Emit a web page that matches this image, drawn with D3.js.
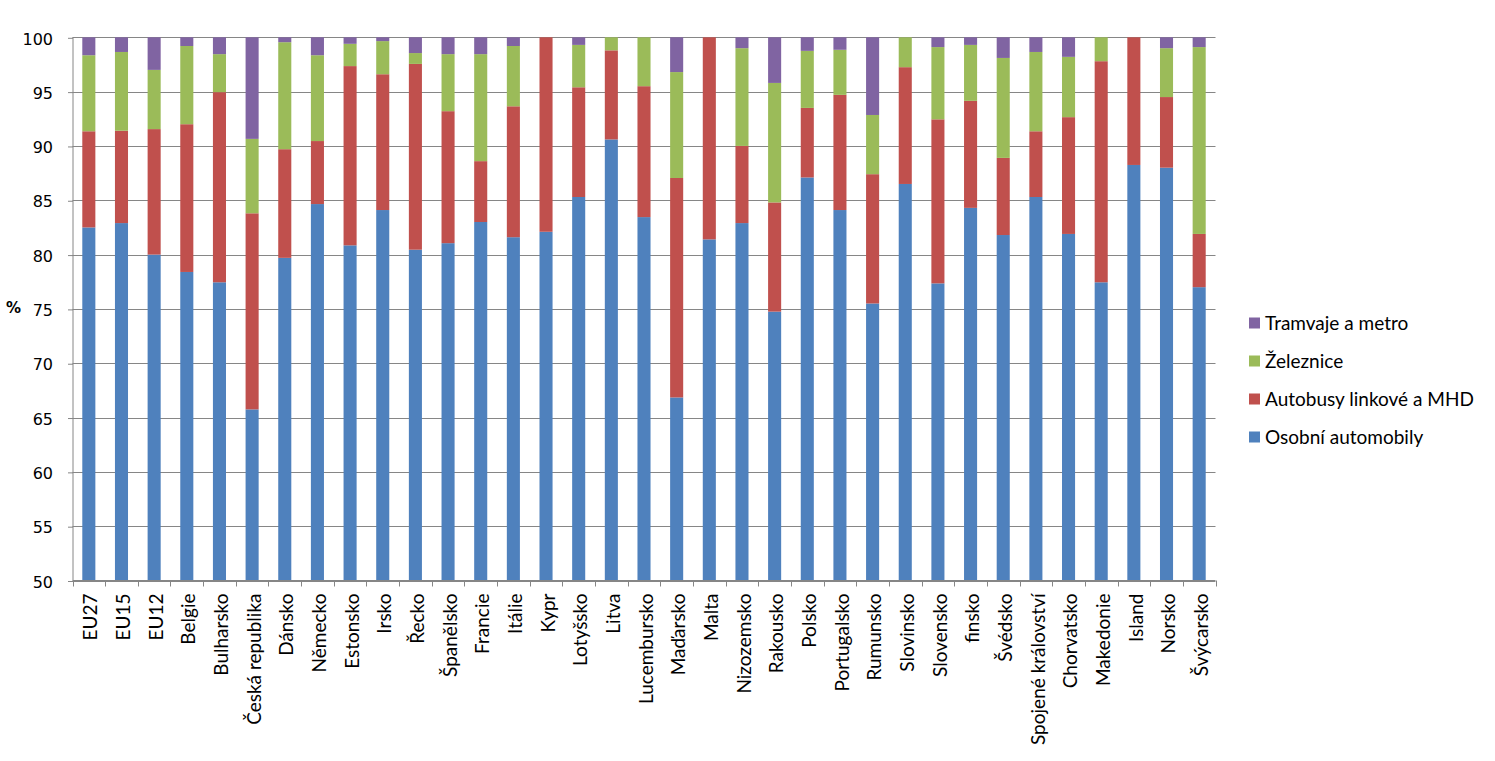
<!DOCTYPE html>
<html><head><meta charset="utf-8">
<script src="https://cdn.jsdelivr.net/npm/d3@7"></script>
<style>body{margin:0;background:#fff}</style>
</head><body>
<svg id="chart" width="1495" height="761"></svg>
<script>
const categories = ["EU27","EU15","EU12","Belgie","Bulharsko","Česká republika","Dánsko","Německo","Estonsko","Irsko","Řecko","Španělsko","Francie","Itálie","Kypr","Lotyšsko","Litva","Lucembursko","Maďarsko","Malta","Nizozemsko","Rakousko","Polsko","Portugalsko","Rumunsko","Slovinsko","Slovensko","finsko","Švédsko","Spojené království","Chorvatsko","Makedonie","Island","Norsko","Švýcarsko"];
const osobniAutomobily = [82.5,82.9,80.0,78.4,77.45,65.75,79.7,84.65,80.85,84.1,80.45,81.05,83.0,81.6,82.1,85.3,90.6,83.45,66.85,81.4,82.9,74.75,87.1,84.1,75.5,86.5,77.35,84.3,81.8,85.3,81.9,77.45,88.25,88.0,77.0];
const autobusy = [8.85,8.5,11.55,13.6,17.5,18.05,10.0,5.8,16.5,12.5,17.1,12.15,5.6,12.05,17.9,10.1,8.2,12.05,20.2,18.6,7.1,10.05,6.4,10.6,11.9,10.75,15.1,9.85,7.1,6.05,10.75,20.35,11.75,6.5,4.9];
const zeleznice = [7.0,7.25,5.45,7.2,3.5,6.85,9.85,7.9,2.05,3.05,1.0,5.25,9.85,5.55,0,3.9,1.2,4.5,9.75,0,9.0,11.0,5.25,4.15,5.45,2.75,6.65,5.15,9.2,7.3,5.55,2.2,0,4.5,17.2];
const tramvaje = [1.65,1.35,3.0,0.8,1.55,9.35,0.45,1.65,0.6,0.35,1.45,1.55,1.55,0.8,0,0.7,0,0,3.2,0,1.0,4.2,1.25,1.15,7.15,0,0.9,0.7,1.9,1.35,1.8,0,0,1.0,0.9];
const seriesNames = ["Osobní automobily","Autobusy linkové a MHD","Železnice","Tramvaje a metro"];
const seriesColors = ["#4F81BD","#C0504D","#9BBB59","#8064A2"];
const yTicks = [50,55,60,65,70,75,80,85,90,95,100];

const svg = d3.select("#chart");
const pLeft = 72.5, pRight = 1215.5, pTop = 37.3, pBottom = 580.5;
const x = d3.scaleBand().domain(categories).range([pLeft, pRight]).paddingInner(0.6).paddingOuter(0.3);
const xb = d3.scaleBand().domain(categories).range([pLeft, pRight]);
const y = d3.scaleLinear().domain([50,100]).range([pBottom, pTop]).clamp(true);

const rows = categories.map((c,i)=>({cat:c, s0:osobniAutomobily[i], s1:autobusy[i], s2:zeleznice[i], s3:tramvaje[i]}));
const stack = d3.stack().keys(["s0","s1","s2","s3"])(rows);

// gridlines
svg.append("g").selectAll("line").data(yTicks).join("line")
  .attr("x1", pLeft).attr("x2", pRight)
  .attr("y1", d=>Math.round(y(d))+0.5).attr("y2", d=>Math.round(y(d))+0.5)
  .attr("stroke", "#868686").attr("stroke-width", 1);

// bars
svg.append("g").selectAll("g").data(stack).join("g")
  .attr("fill", (d,i)=>seriesColors[i])
  .selectAll("rect").data(d=>d).join("rect")
  .attr("x", d=>x(d.data.cat))
  .attr("width", x.bandwidth())
  .attr("y", d=>y(d[1]))
  .attr("height", d=>Math.max(0, y(d[0]) - y(d[1])));

// y axis
const yAxis = d3.axisLeft(y).tickValues(yTicks).tickSize(5).tickPadding(14.5);
const gy = svg.append("g").attr("transform", `translate(${pLeft},0)`).call(yAxis);
gy.select(".domain").attr("stroke","#868686").attr("d", `M0.5,${pTop}V${pBottom}`);
gy.selectAll(".tick line").attr("stroke","#868686").attr("transform","translate(0.5,0.5)");
gy.selectAll(".tick text").attr("font-family","DejaVu Sans, Verdana, sans-serif").attr("font-size", 16).attr("fill","#000").attr("dy","0.42em");

// x axis
const gx = svg.append("g").attr("transform", `translate(0,${pBottom})`);
gx.append("line").attr("x1", pLeft).attr("x2", pRight).attr("y1",0).attr("y2",0).attr("stroke","#868686");
gx.selectAll("line.t").data(categories.concat(["__end"])).join("line").attr("class","t")
  .attr("x1", (d,i)=>Math.round(i<categories.length ? xb(d) : pRight)+0.5)
  .attr("x2", (d,i)=>Math.round(i<categories.length ? xb(d) : pRight)+0.5)
  .attr("y1", 0).attr("y2", 6).attr("stroke","#868686");
gx.selectAll("text").data(categories).join("text")
  .attr("transform", d=>`translate(${xb(d)+xb.bandwidth()/2+2},13) rotate(-90)`)
  .attr("text-anchor","end").attr("dy","0.35em")
  .attr("font-family","Lato, Carlito, Calibri, sans-serif").attr("font-size", 19).attr("fill","#000")
  .text(d=>d);

// y label
svg.append("text").attr("x", 6).attr("y", 308).attr("dy","0.35em")
  .attr("font-family","DejaVu Sans, Verdana, sans-serif").attr("font-weight","bold").attr("font-size",15).text("%");

// legend
const legendOrder = [3,2,1,0];
const lg = svg.append("g").selectAll("g").data(legendOrder).join("g")
  .attr("transform", (d,i)=>`translate(1249,${323 + i*38})`);
lg.append("rect").attr("x",0).attr("y",-5.5).attr("width",11).attr("height",11).attr("fill", d=>seriesColors[d]);
lg.append("text").attr("x",16).attr("y",0).attr("dy","0.35em")
  .attr("font-family","Lato, Carlito, Calibri, sans-serif").attr("font-size",19).text(d=>seriesNames[d]);
</script>
</body></html>
